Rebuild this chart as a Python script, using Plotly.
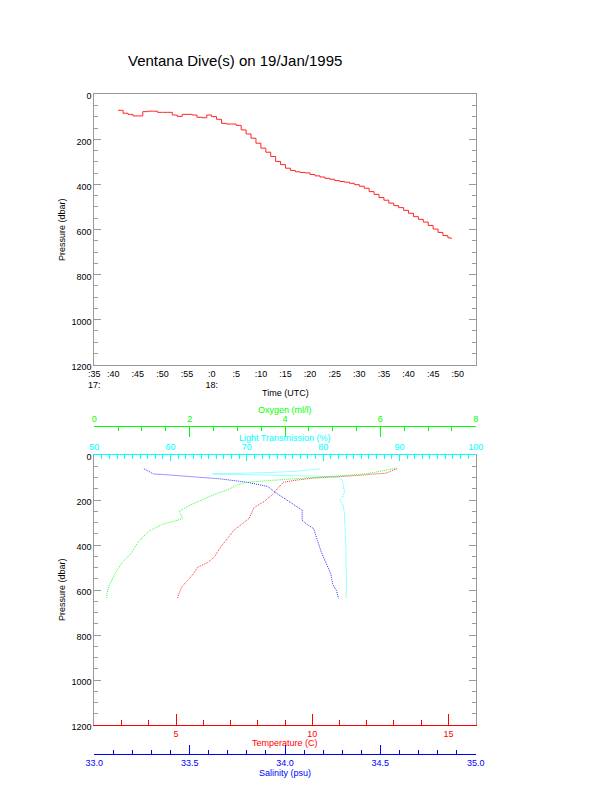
import plotly.graph_objects as go

# page body has an 8px margin, so the figure is 604x777 inside the 612x785 window
W, H, OFF = 604, 777, 8

# ---------------- data: top panel (pressure vs time) ----------------
time_hhmm = ["17:41", "17:42", "17:43", "17:44", "17:45", "17:46", "17:47", "17:48", "17:49", "17:50",
             "17:51", "17:52", "17:53", "17:54", "17:55", "17:56", "17:57", "17:58", "17:59", "18:00",
             "18:01", "18:02", "18:03", "18:04", "18:05", "18:06", "18:07", "18:08", "18:09", "18:10",
             "18:11", "18:12", "18:13", "18:14", "18:15", "18:16", "18:17", "18:18", "18:19", "18:20",
             "18:21", "18:22", "18:23", "18:24", "18:25", "18:26", "18:27", "18:28", "18:29", "18:30",
             "18:31", "18:32", "18:33", "18:34", "18:35", "18:36", "18:37", "18:38", "18:39", "18:40",
             "18:41", "18:42", "18:43", "18:44", "18:45", "18:46", "18:47", "18:48", "18:48:40"]
pressure_t = [71, 84, 89, 96, 96, 77, 75, 75, 80, 80,
              80, 92, 98, 89, 89, 92, 102, 104, 92, 99,
              111, 129, 132, 132, 138, 158, 176, 195, 217, 239,
              257, 276, 298, 312, 328, 338, 344, 347, 349, 356,
              362, 367, 373, 377, 383, 387, 390, 395, 401, 408,
              417, 432, 444, 458, 470, 483, 494, 503, 515, 528,
              543, 555, 567, 582, 598, 613, 627, 637, 642]

time_tick_hhmm = ["17:36:09", "17:40", "17:45", "17:50", "17:55", "18:00", "18:05", "18:10", "18:15",
                  "18:20", "18:25", "18:30", "18:35", "18:40", "18:45", "18:50"]
time_tick_text = [":35<br>17:", ":40", ":45", ":50", ":55", ":0<br>18:", ":5", ":10", ":15",
                  ":20", ":25", ":30", ":35", ":40", ":45", ":50"]
time_range_hhmm = ["17:36:09", "18:53:39"]
day = "1995-01-19 "

# ---------------- data: bottom panel (profiles) ----------------
ox_p = [58, 70, 81, 88, 92, 98, 104, 110, 115, 121, 133, 155, 170, 196, 222, 250, 265, 282, 290,
        305, 330, 339, 372, 390, 439, 476, 521, 551, 581, 611, 637]
oxygen = [6.34, 6.0, 5.78, 5.45, 5.1, 4.7, 4.3, 3.9, 3.45, 3.2, 3.0, 2.79, 2.58, 2.30, 2.02, 1.78,
          1.82, 1.85, 1.75, 1.47, 1.22, 1.15, 0.98, 0.91, 0.77, 0.59, 0.45, 0.38, 0.31, 0.27, 0.26]

temp_p = [61, 70, 81, 85, 90, 96, 103, 112, 121, 145, 170, 207, 234, 282, 305, 334, 372, 409, 454,
          479, 499, 528, 558, 588, 637]
temperature = [13.1, 12.9, 12.7, 12.2, 11.8, 11.0, 10.0, 9.4, 8.95, 8.75, 8.59, 8.23, 7.86, 7.68,
               7.43, 7.13, 6.88, 6.64, 6.40, 6.15, 5.79, 5.64, 5.42, 5.2, 5.05]

sal_p = [61, 73, 84, 88, 93, 98, 106, 121, 140, 167, 190, 200, 222, 245, 290, 305, 327, 349, 379,
         431, 491, 528, 573, 603, 637]
salinity = [33.26, 33.29, 33.31, 33.38, 33.47, 33.54, 33.66, 33.80, 33.91, 33.95, 33.99, 34.01,
            34.05, 34.09, 34.09, 34.11, 34.15, 34.16, 34.17, 34.19, 34.22, 34.24, 34.25, 34.27, 34.28]

lt_p = [62, 66, 72, 78, 80, 82, 84, 86, 88, 90, 92, 95, 100, 110, 130, 163, 185, 200, 222, 260,
        342, 420, 500, 560, 637]
light_trans = [79.5, 78.3, 76.5, 73.0, 70.0, 67.0, 65.5, 68.0, 72.0, 75.5, 78.5, 80.5, 82.0, 82.5,
               82.6, 82.8, 82.6, 82.2, 82.6, 82.8, 82.9, 83.0, 83.0, 83.1, 83.0]

# ---------------- layout helpers (window pixel -> paper) ----------------
def px_x(x):
    return (x - OFF) / W

def px_y(y):
    return 1 - (y - OFF) / H

XDOM = [px_x(94.3), px_x(475.7)]
TOP_DOM = [px_y(364.7), px_y(94.3)]
BOT_DOM = [px_y(725), px_y(455)]

FONT = "Liberation Sans, Arial, Helvetica, sans-serif"
GRAY = "#9a9a9a"
RED, GREEN, BLUE, CYAN = "#ff0000", "#00ff00", "#0000ff", "#00ffff"
FS = 9

fig = go.Figure()

fig.add_trace(go.Scatter(
    x=[day + t for t in time_hhmm], y=pressure_t, mode="lines", opacity=0.85,
    line=dict(color=RED, width=1, shape="hv"), xaxis="x", yaxis="y", showlegend=False))

dot = "1px,1px"
for xs, ys, col, ax in [(oxygen, ox_p, GREEN, "x5"), (light_trans, lt_p, CYAN, "x4"),
                        (salinity, sal_p, BLUE, "x3"), (temperature, temp_p, RED, "x2")]:
    fig.add_trace(go.Scatter(x=xs, y=ys, mode="lines", opacity=0.8,
                             line=dict(color=col, width=1, dash=dot),
                             xaxis=ax, yaxis="y2", showlegend=False))

tickfont = dict(family=FONT, size=FS, color="black")

def yaxis_common(dom):
    return dict(domain=dom, range=[1200, 0], tickvals=[0, 200, 400, 600, 800, 1000, 1200],
                ticks="inside", ticklen=7, tickcolor=GRAY, showline=True, linecolor=GRAY,
                mirror="ticks", showgrid=False, zeroline=False, tickfont=tickfont,
                ticklabelshift=-2,
                minor=dict(dtick=50, ticks="inside", ticklen=4, tickcolor=GRAY, showgrid=False))

trange = [day + t for t in time_range_hhmm]
tvals = [day + t for t in time_tick_hhmm]

fig.update_layout(
    width=W, height=H, margin=dict(l=0, r=0, t=0, b=0, autoexpand=False),
    paper_bgcolor="white", plot_bgcolor="white",
    font=dict(family=FONT, size=FS),
    xaxis=dict(domain=XDOM, anchor="y", type="date", range=trange, tickvals=tvals,
               ticktext=time_tick_text, ticks="", showline=True, linecolor=GRAY, mirror=True,
               showgrid=False, zeroline=False, tickfont=tickfont),
    xaxis6=dict(overlaying="x", anchor="y", side="top", type="date", range=trange, tickvals=tvals,
                ticks="inside", ticklen=4, tickcolor=GRAY, showticklabels=False, showline=False,
                showgrid=False, zeroline=False),
    yaxis=dict(anchor="x", **yaxis_common(TOP_DOM)),
    yaxis2=dict(anchor="x2", **yaxis_common(BOT_DOM)),
    xaxis2=dict(domain=XDOM, anchor="y2", side="bottom", range=[2, 16], tickvals=[5, 10, 15],
                ticks="inside", ticklen=11, tickcolor=RED, showline=True, linecolor=RED,
                showgrid=False, zeroline=False, tickfont=dict(family=FONT, size=FS, color=RED),
                minor=dict(dtick=1, tick0=0, ticks="inside", ticklen=5, tickcolor=RED, showgrid=False)),
    xaxis3=dict(overlaying="x2", anchor="free", position=px_y(754.3), side="bottom", range=[33, 35],
                dtick=0.5, tick0=33, tickformat=".1f", ticks="inside", ticklen=9, tickcolor=BLUE,
                showline=True, linecolor=BLUE, showgrid=False, zeroline=False,
                tickfont=dict(family=FONT, size=FS, color=BLUE),
                minor=dict(dtick=0.1, ticks="inside", ticklen=4, tickcolor=BLUE, showgrid=False)),
    xaxis4=dict(overlaying="x2", anchor="y2", side="top", range=[50, 100], dtick=10, tick0=50,
                ticks="inside", ticklen=6, tickcolor=CYAN, showline=True, linecolor=CYAN,
                showgrid=False, zeroline=False, tickfont=dict(family=FONT, size=FS, color=CYAN),
                minor=dict(dtick=1, ticks="inside", ticklen=4, tickcolor=CYAN, showgrid=False)),
    xaxis5=dict(overlaying="x2", anchor="free", position=px_y(425.7), side="top", range=[0, 8],
                dtick=2, tick0=0, ticks="inside", ticklen=10, tickcolor=GREEN, showline=True,
                linecolor=GREEN, showgrid=False, zeroline=False,
                tickfont=dict(family=FONT, size=FS, color=GREEN),
                minor=dict(dtick=0.5, ticks="inside", ticklen=4, tickcolor=GREEN, showgrid=False)),
)

def label(text, x, y, color="black", size=FS, angle=0, xanchor="center"):
    fig.add_annotation(text=text, x=px_x(x), y=px_y(y), xref="paper", yref="paper",
                       showarrow=False, textangle=angle, xanchor=xanchor, yanchor="middle",
                       font=dict(family=FONT, size=size, color=color))

label("Ventana Dive(s) on 19/Jan/1995", 126, 60, size=15, xanchor="left")
label("Pressure (dbar)", 62, 230, angle=-90)
label("Time (UTC)", 285, 393)
label("Oxygen (ml/l)", 285, 410, color=GREEN)
label("Light Transmission (%)", 285, 438, color=CYAN)
label("Pressure (dbar)", 62, 590, angle=-90)
label("Temperature (C)", 285, 743, color=RED)
label("Salinity (psu)", 285, 773, color=BLUE)

fig.write_html("out.html")
